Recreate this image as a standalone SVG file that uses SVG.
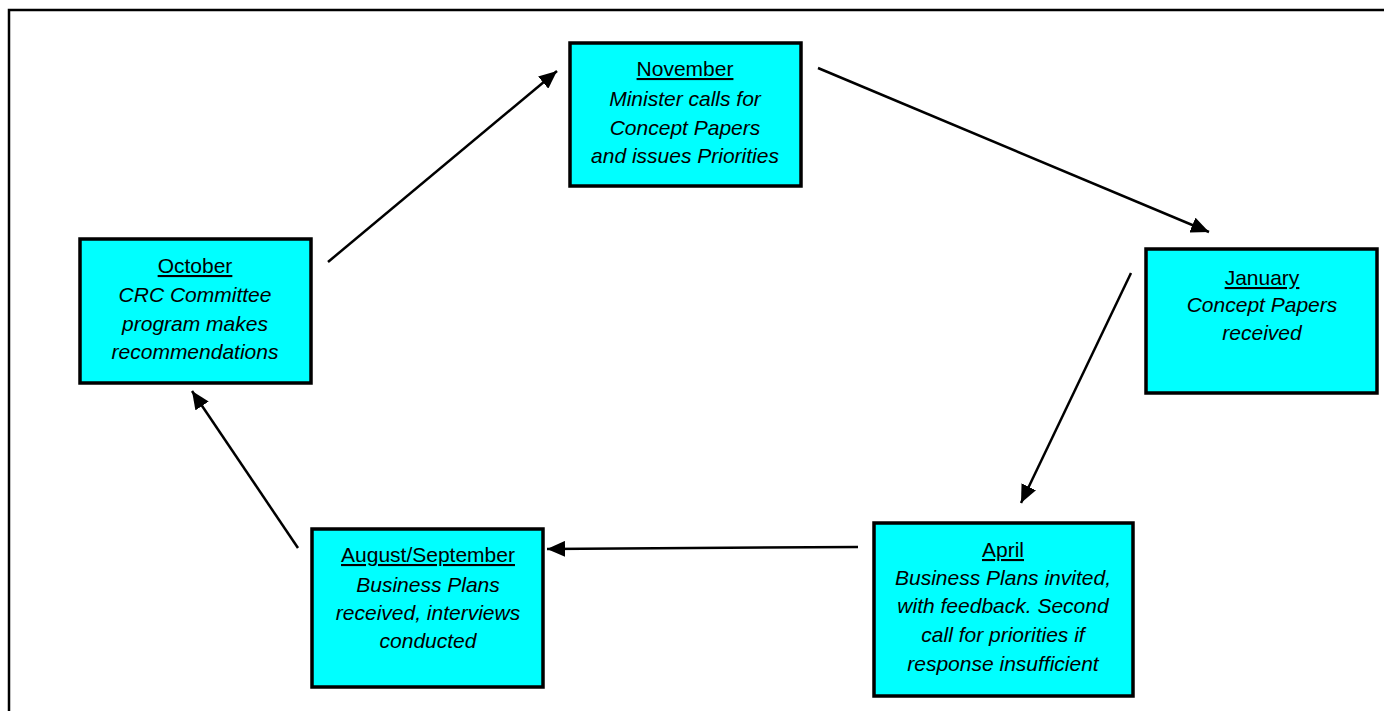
<svg xmlns="http://www.w3.org/2000/svg" width="1384" height="711" viewBox="0 0 1384 711">
<style>
.box{fill:#00FFFF;stroke:#000;stroke-width:3.5}
text{font-family:"Liberation Sans",Arial,sans-serif;font-size:21px;fill:#000;text-anchor:middle}
.t{text-decoration:underline}
.i{font-style:italic}
.c{stroke:#000;stroke-width:2.5;fill:none;marker-end:url(#ah)}
</style>
<defs>
<marker id="ah" markerUnits="userSpaceOnUse" markerWidth="20" markerHeight="16" refX="18" refY="8" orient="auto">
<path d="M0,0 L18,8 L0,16 Z" fill="#000"/>
</marker>
</defs>
<rect width="1384" height="711" fill="#fff"/>
<path d="M9,711 V10 H1384" fill="none" stroke="#000" stroke-width="2.5"/>
<g id="connectors">
<line class="c" x1="328" y1="262" x2="557" y2="71"/>
<line class="c" x1="818" y1="68" x2="1209" y2="232"/>
<line class="c" x1="1131" y1="273" x2="1021" y2="503"/>
<line class="c" x1="858" y1="547" x2="547" y2="549"/>
<line class="c" x1="298" y1="548" x2="192" y2="391"/>
</g>
<g id="november">
<rect class="box" x="570" y="43" width="231" height="143"/>
<text x="685" y="76" class="t">November</text>
<text x="685" y="106" class="i">Minister calls for</text>
<text x="685" y="135" class="i">Concept Papers</text>
<text x="685" y="163" class="i">and issues Priorities</text>
</g>
<g id="october">
<rect class="box" x="80" y="239" width="231" height="144"/>
<text x="195" y="273" class="t">October</text>
<text x="195" y="302" class="i">CRC Committee</text>
<text x="195" y="331" class="i">program makes</text>
<text x="195" y="359" class="i">recommendations</text>
</g>
<g id="january">
<rect class="box" x="1146" y="249" width="231" height="144"/>
<text x="1262" y="285" class="t">January</text>
<text x="1262" y="312" class="i">Concept Papers</text>
<text x="1262" y="340" class="i">received</text>
</g>
<g id="april">
<rect class="box" x="874" y="523" width="259" height="173"/>
<text x="1003" y="557" class="t">April</text>
<text x="1003" y="585" class="i">Business Plans invited,</text>
<text x="1003" y="613" class="i">with feedback. Second</text>
<text x="1003" y="642" class="i">call for priorities if</text>
<text x="1003" y="671" class="i">response insufficient</text>
</g>
<g id="augsep">
<rect class="box" x="312" y="529" width="231" height="158"/>
<text x="428" y="562" class="t">August/September</text>
<text x="428" y="592" class="i">Business Plans</text>
<text x="428" y="620" class="i">received, interviews</text>
<text x="428" y="648" class="i">conducted</text>
</g>
</svg>
